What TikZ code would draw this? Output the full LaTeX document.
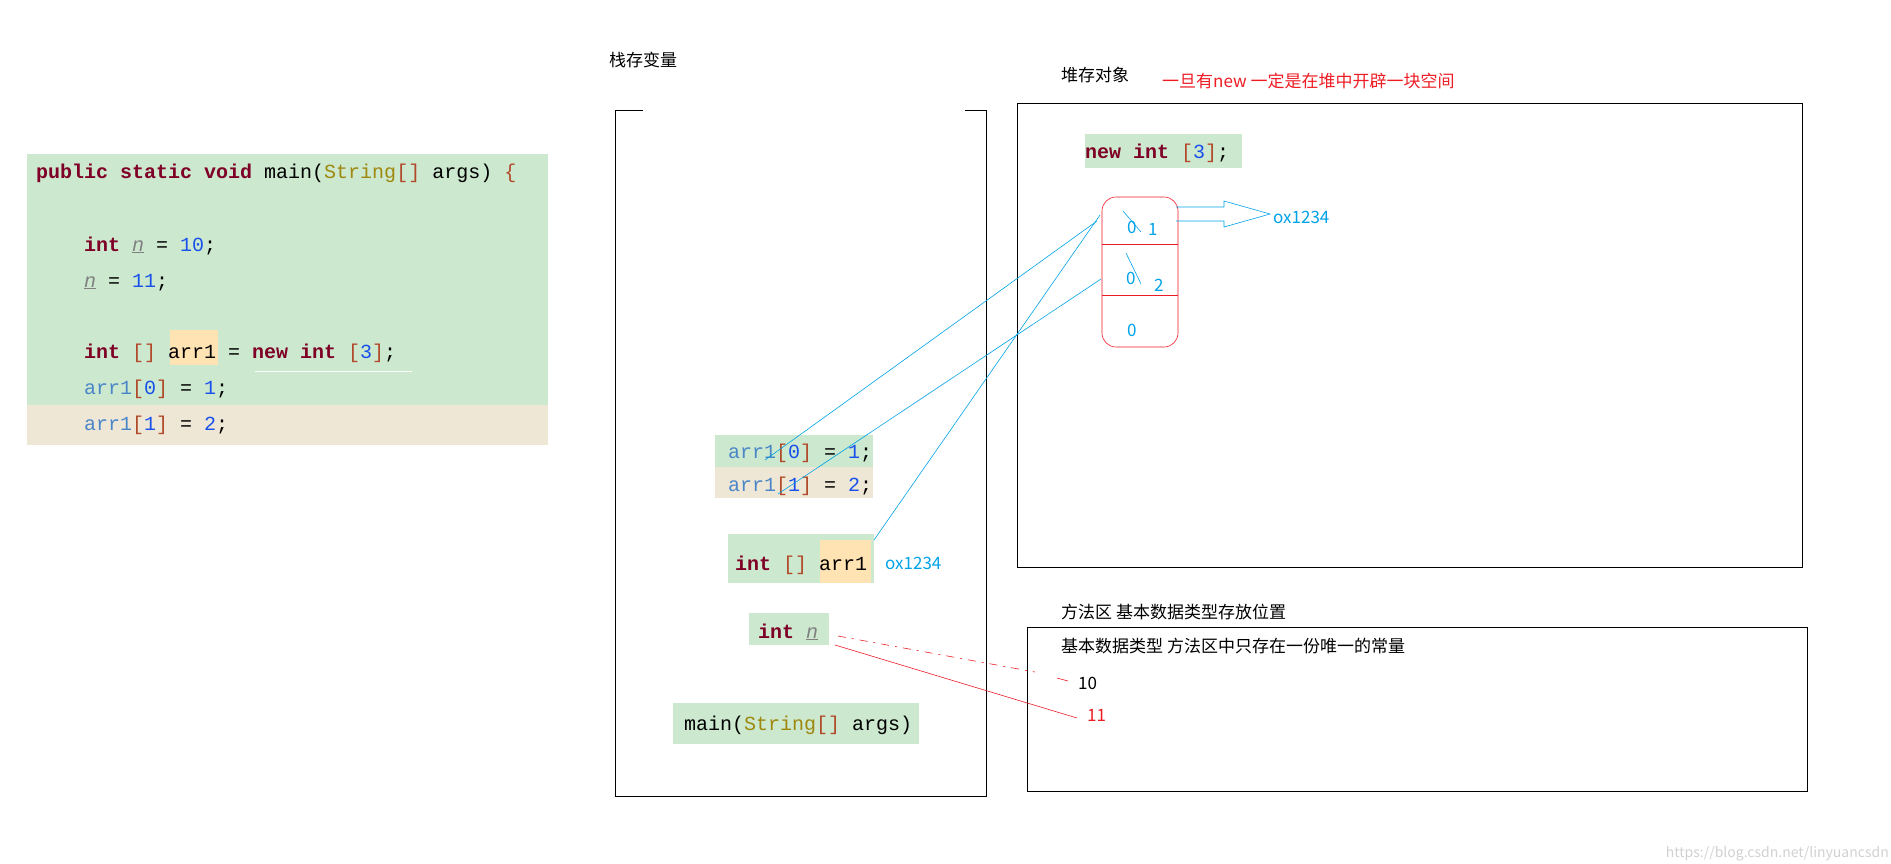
\documentclass[tikz,border=0pt]{standalone}
\usepackage{fontspec}
\setmainfont{Noto Sans CJK SC}
\newfontfamily\codef{Liberation Mono}
\definecolor{kw}{HTML}{7F0026}
\definecolor{cls}{HTML}{9E880D}
\definecolor{var}{HTML}{4A86C8}
\definecolor{num}{HTML}{1750EB}
\definecolor{brk}{HTML}{B04A2A}
\definecolor{bggreen}{HTML}{CCE8CF}
\definecolor{bgbeige}{HTML}{EFE7D6}
\definecolor{hlorange}{HTML}{FFE3B3}
\definecolor{cyanb}{HTML}{00A2E8}
\definecolor{redt}{HTML}{ED1C24}
\newcommand{\Kw}[1]{\textcolor{kw}{\textbf{#1}}}
\newcommand{\Cl}[1]{\textcolor{cls}{#1}}
\newcommand{\Va}[1]{\textcolor{var}{#1}}
\newcommand{\Nu}[1]{\textcolor{num}{#1}}
\newcommand{\Br}[1]{\textcolor{brk}{#1}}
\newcommand{\Nv}{\textcolor{gray}{\underline{\textit{n}}}}
\begin{document}
\begin{tikzpicture}[x=1pt,y=-1pt,
  code/.style={anchor=base west,inner sep=0pt,font=\codef\fontsize{20}{24}\selectfont},
  lbl/.style={anchor=base west,inner sep=0pt,font=\fontsize{17}{20}\selectfont},
  box/.style={draw=black,line width=0.8pt},
  link/.style={draw=cyanb,line width=0.6pt},
  redl/.style={draw=redt,line width=0.6pt}]
\useasboundingbox (0,0) rectangle (1891,863);
% code block
\fill[bggreen] (27,154) rectangle (548,405);
\fill[bgbeige] (27,405) rectangle (548,445);
\fill[hlorange] (170,330) rectangle (218,365);
\draw[white] (255,371) -- (412,371);
\node[code] (c1) at (36,178) {\Kw{public} \Kw{static} \Kw{void} main(\Cl{String}\Br{[]} args) \Br{\{}};
\node[code] (c2) at (84,251) {\Kw{int} \Nv{} = \Nu{10};};
\node[code] (c3) at (84,287) {\Nv{} = \Nu{11};};
\node[code] (c4) at (84,358) {\Kw{int} \Br{[]} arr1 = \Kw{new} \Kw{int} \Br{[}\Nu{3}\Br{]};};
\node[code] (c5) at (84,394) {\Va{arr1}\Br{[}\Nu{0}\Br{]} = \Nu{1};};
\node[code] (c6) at (84,430) {\Va{arr1}\Br{[}\Nu{1}\Br{]} = \Nu{2};};
% stack
\node[lbl] (st) at (609,66) {栈存变量};
\draw[box] (643,110) -- (615,110) -- (615,796) -- (986,796) -- (986,110) -- (965,110);
\fill[bggreen] (715,435) rectangle (873,467);
\fill[bgbeige] (715,467) rectangle (873,498);
\node[code] (a0) at (728,458) {\Va{arr1}\Br{[}\Nu{0}\Br{]} = \Nu{1};};
\node[code] (a1) at (728,491) {\Va{arr1}\Br{[}\Nu{1}\Br{]} = \Nu{2};};
\fill[bggreen] (728,534) rectangle (874,583);
\fill[hlorange] (820,540) rectangle (871,583);
\node[code] (ar) at (735,570) {\Kw{int} \Br{[]} arr1};
\node[lbl,text=cyanb] (ox1) at (885,569) {ox1234};
\fill[bggreen] (749,613) rectangle (829,645);
\node[code] (in) at (758,638) {\Kw{int} \Nv};
\fill[bggreen] (673,703) rectangle (919,744);
\node[code] (mn) at (684,730) {main(\Cl{String}\Br{[]} args)};
% heap
\node[lbl] (hp) at (1061,81) {堆存对象};
\node[lbl,text=redt] (rt) at (1162,87) {一旦有new 一定是在堆中开辟一块空间};
\draw[box] (1017,103) rectangle (1802,567);
\fill[bggreen] (1085,134) rectangle (1242,168);
\node[code] (nw) at (1085,158) {\Kw{new} \Kw{int} \Br{[}\Nu{3}\Br{]};};
\draw[redl,rounded corners=14pt] (1102,197) rectangle (1178,347);
\draw[redl] (1102,244) -- (1178,244);
\draw[redl] (1102,295) -- (1178,295);
\node[lbl,text=cyanb] (v0) at (1127,233) {0};
\node[lbl,text=cyanb] (v1) at (1148,235) {1};
\node[lbl,text=cyanb] (v2) at (1126,284) {0};
\node[lbl,text=cyanb] (v3) at (1154,291) {2};
\node[lbl,text=cyanb] (v4) at (1127,336) {0};
\draw[link] (1123,211) -- (1141,232);
\draw[link] (1126,253) -- (1141,284);
\coordinate (ah) at (1270,214);
\draw[link] (1176,207) -- (1224,207) -- (1224,201) -- (ah) -- (1224,227) -- (1224,221) -- (1176,221);
\node[lbl,text=cyanb,anchor=west] (ox2) at (1273,217) {ox1234};
\coordinate (t0) at (1097,221);
\coordinate (t1) at (1101,279);
\coordinate (t2) at (1100,215);
\draw[link] (765,460) -- (t0);
\draw[link] (778,494) -- (t1);
\draw[link] (874,540) -- (t2);
% method area
\node[lbl] (ma) at (1061,618) {方法区 基本数据类型存放位置};
\draw[box] (1027,627) rectangle (1807,791);
\node[lbl] (mt) at (1061,652) {基本数据类型 方法区中只存在一份唯一的常量};
\node[lbl] (n10) at (1078,689) {10};
\node[lbl,text=redt] (n11) at (1087,721) {11};
\draw[redl,dash pattern=on 8pt off 6pt on 2pt off 6pt] (838,636) -- (1035,672);
\draw[redl] (1057,678) -- (1068,681);
\draw[redl] (835,645) -- (1077,718);
\node[anchor=south east,inner sep=2pt,text=black!18,font=\fontsize{14}{16}\selectfont] (wm) at (1891,863) {https://blog.csdn.net/linyuancsdn};
\end{tikzpicture}
\end{document}
